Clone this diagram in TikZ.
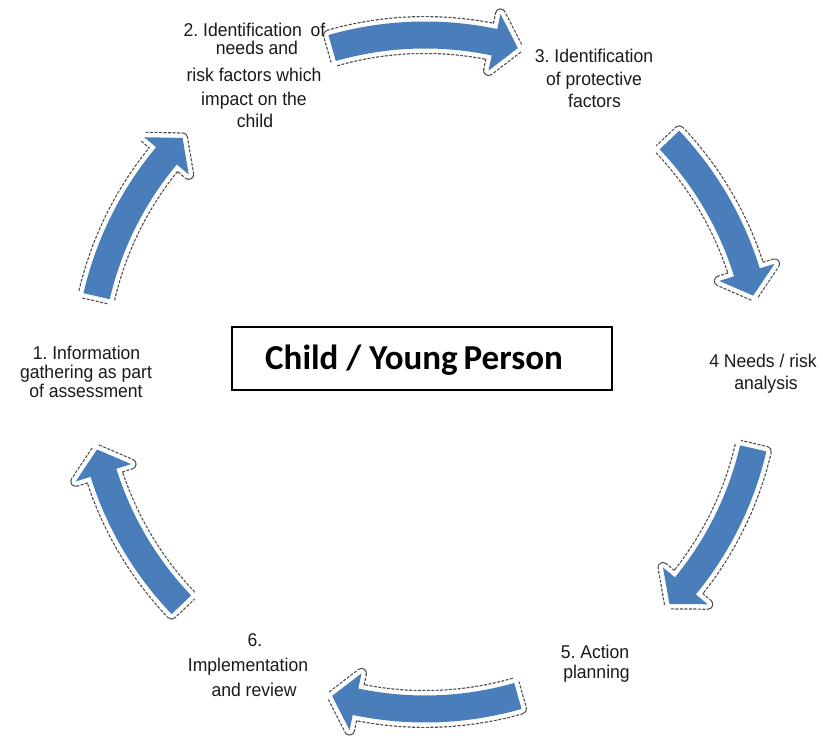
\documentclass[tikz,border=0pt]{standalone}
\usepackage{fontspec}
\setmainfont[FakeStretch=0.95]{Liberation Sans}
\newfontfamily\boxfont{Carlito}
\frenchspacing
\definecolor{arrowblue}{HTML}{4A7EBB}
\definecolor{txtgray}{HTML}{1A1A1A}
\definecolor{outlinegray}{HTML}{4D4D4D}
\tikzset{
  cyclearrow/.style={fill=arrowblue,
    preaction={draw=outlinegray, line width=11pt, dash pattern=on 3pt off 1.5pt, line join=round},
    preaction={draw=white, fill=white, line width=8.6pt, line join=round}},
  lbl/.style={anchor=base, inner sep=0pt, text=txtgray, font=\fontsize{18.5}{20}\selectfont},
  centerbox/.style={draw=black, line width=1.6pt, fill=white},
}
\newcommand\Ri{323.5}
\newcommand\Ro{350.5}
\newcommand\Rm{337}
\newcommand\Rhi{308}
\newcommand\Rho{366}
\newcommand\drawcyclearrow[2]{%
  \pgfmathsetmacro\aT{#1+#2}%
  \pgfmathsetmacro\aP{#1-#2}%
  \pgfmathsetmacro\aH{\aP+4.1}%
  \path[cyclearrow] (\aT:\Ri) arc[start angle=\aT, end angle=\aH, radius=\Ri]
    -- (\aH:\Rhi) -- (\aP:\Rm) -- (\aH:\Rho) -- (\aH:\Ro)
    arc[start angle=\aH, end angle=\aT, radius=\Ro] -- cycle;}
\begin{document}
\begin{tikzpicture}[x=1pt, y=1pt]
\useasboundingbox (0,0) rectangle (823,736);
\fill[white] (0,0) rectangle (823,736);
\coordinate (C) at (425,364);
\begin{scope}[shift={(C)}]
  \drawcyclearrow{151.5}{15.5}
  \drawcyclearrow{90}{16}
  \drawcyclearrow{28.3}{15.2}
  \drawcyclearrow{-28.3}{15.2}
  \drawcyclearrow{-90}{16}
  \drawcyclearrow{-151.5}{15.2}
\end{scope}
% centre box
\node[centerbox, minimum width=380pt, minimum height=63pt, inner sep=0pt] (box) at (422,377.5) {};
\node[anchor=base, inner sep=0pt] (boxtext) at (414,366) {\boxfont\bfseries\fontsize{35}{38}\selectfont Child / Young\,Person};
% label 1
\node[lbl] (l1a) at (86.5,376) {1. Information};
\node[lbl] (l1b) at (86,357) {gathering as part};
\node[lbl] (l1c) at (86,338) {of assessment};
% label 2
\node[lbl] (l2a) at (254.5,699.3) {2. Identification\hspace{4pt} of};
\node[lbl] (l2b) at (257,681) {needs and};
\node[lbl] (l2c) at (254,654) {risk factors which};
\node[lbl] (l2d) at (254,630) {impact on the};
\node[lbl] (l2e) at (255,608) {child};
% label 3
\node[lbl] (l3a) at (594,673) {3. Identification};
\node[lbl] (l3b) at (594,650) {of protective};
\node[lbl] (l3c) at (594.5,628) {factors};
% label 4
\node[lbl] (l4a) at (763,368) {4 Needs / risk};
\node[lbl] (l4b) at (766,346) {analysis};
% label 5
\node[lbl] (l5a) at (595,77) {5. Action};
\node[lbl] (l5b) at (596.5,57) {planning};
% label 6
\node[lbl] (l6a) at (255,89) {6.};
\node[lbl] (l6b) at (248,64) {Implementation};
\node[lbl] (l6c) at (254,39) {and review};
\end{tikzpicture}
\end{document}
